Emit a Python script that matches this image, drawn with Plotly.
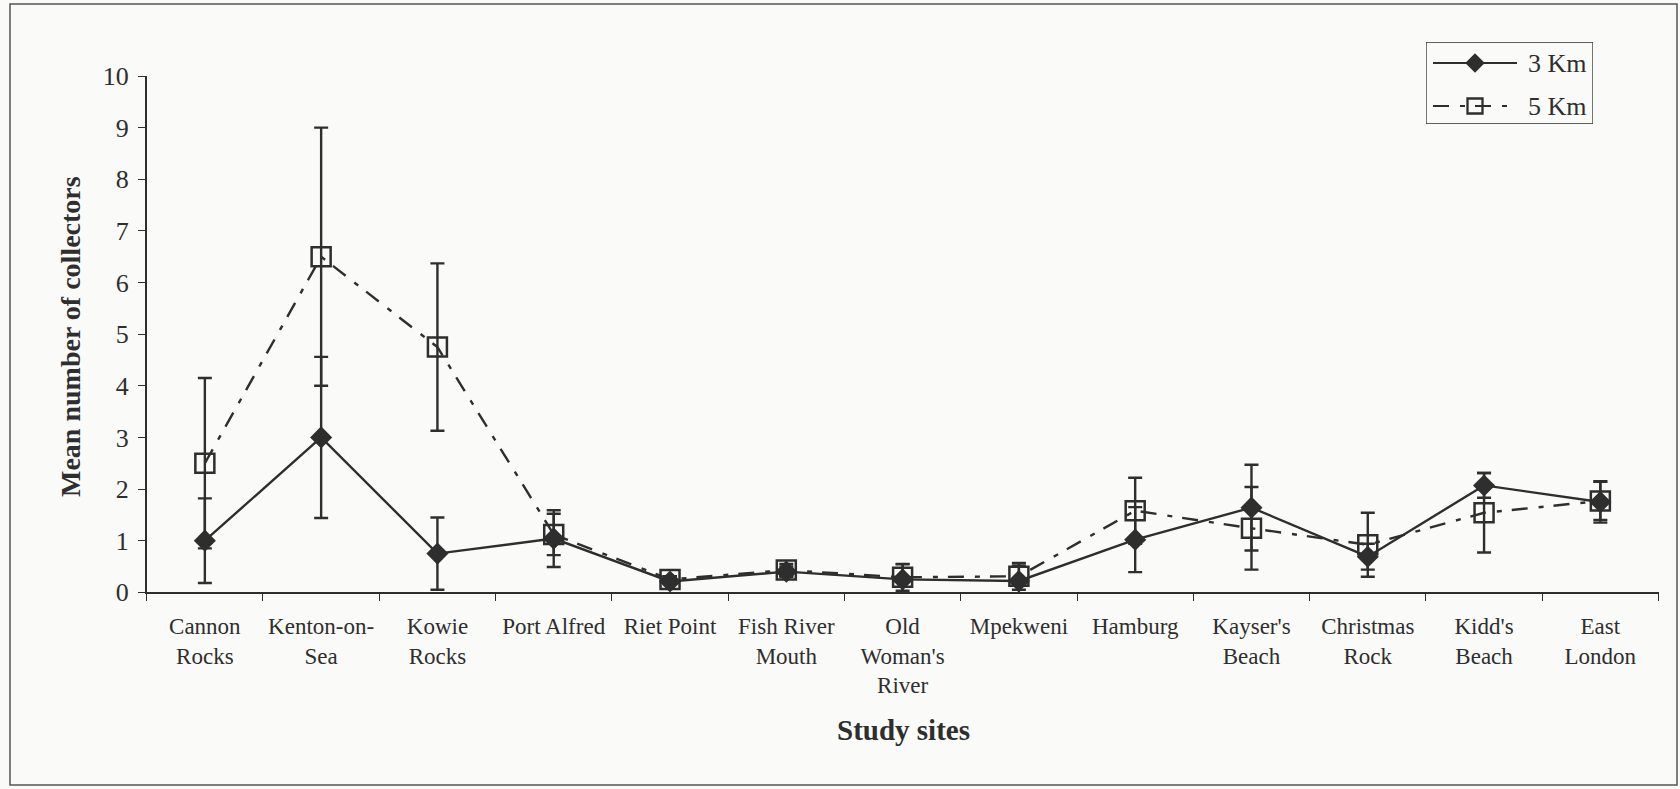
import plotly.graph_objects as go

# Study sites along the coast (west to east)
sites = ["Cannon<br>Rocks", "Kenton-on-<br>Sea", "Kowie<br>Rocks", "Port Alfred", "Riet Point",
         "Fish River<br>Mouth", "Old<br>Woman's<br>River", "Mpekweni", "Hamburg",
         "Kayser's<br>Beach", "Christmas<br>Rock", "Kidd's<br>Beach", "East<br>London"]

# Mean number of collectors and error (±) within 3 km
mean_3km = [1.0, 3.0, 0.75, 1.04, 0.21, 0.40, 0.25, 0.22, 1.02, 1.64, 0.69, 2.07, 1.75]
err_3km = [0.82, 1.56, 0.70, 0.55, 0.05, 0.10, 0.29, 0.30, 0.63, 0.83, 0.25, 0.24, 0.40]

# Mean number of collectors and error (±) within 5 km
mean_5km = [2.5, 6.5, 4.75, 1.12, 0.25, 0.43, 0.29, 0.31, 1.58, 1.24, 0.92, 1.54, 1.77]
err_5km = [1.65, 2.5, 1.62, 0.40, 0.06, 0.12, 0.26, 0.26, 0.64, 0.80, 0.62, 0.77, 0.37]

y_ticks = list(range(0, 11))

W, H = 1680, 789
INK = "#2e2e2e"
BG = "#fafaf8"
SERIF = "Liberation Serif, Times New Roman, serif"
DASH_5KM = "16px,11px,5px,10px"

def px_x(p):
    return p / W

def px_y(p):
    return 1 - p / H

fig = go.Figure()

fig.add_trace(go.Scatter(
    x=sites, y=mean_5km, mode="lines+markers", name="5 Km",
    line=dict(color=INK, width=2.4, dash=DASH_5KM),
    marker=dict(symbol="square-open", size=19, color=INK, line=dict(width=2.5, color=INK)),
    error_y=dict(type="data", array=err_5km, symmetric=True, color=INK, thickness=2.4, width=7),
    showlegend=False, cliponaxis=False,
))
fig.add_trace(go.Scatter(
    x=sites, y=mean_3km, mode="lines+markers", name="3 Km",
    line=dict(color=INK, width=2.4),
    marker=dict(symbol="diamond", size=17, color=INK, line=dict(width=0)),
    error_y=dict(type="data", array=err_3km, symmetric=True, color=INK, thickness=2.4, width=7),
    showlegend=False, cliponaxis=False,
))

# Legend box drawn on its own pixel-scaled axes
LEG_L, LEG_R, LEG_T, LEG_B = 1426, 1593, 42, 124
SAMPLE_X = [1433, 1475, 1517]
for name, yrow, dash, sym, size in [("3 Km", 63, "solid", "diamond", 15),
                                     ("5 Km", 106, DASH_5KM, "square-open", 15)]:
    fig.add_trace(go.Scatter(
        x=SAMPLE_X, y=[yrow] * 3, mode="lines",
        line=dict(color=INK, width=2.2, dash=dash),
        xaxis="x2", yaxis="y2", showlegend=False, hoverinfo="skip",
    ))
    fig.add_trace(go.Scatter(
        x=[SAMPLE_X[1]], y=[yrow], mode="markers",
        marker=dict(symbol=sym, size=size, color=INK,
                    line=dict(width=2.3 if sym == "square-open" else 0, color=INK)),
        xaxis="x2", yaxis="y2", showlegend=False, hoverinfo="skip",
    ))
    fig.add_annotation(x=1526, y=yrow, xref="x2", yref="y2", text=name, showarrow=False,
                       xanchor="left", yanchor="middle", font=dict(family=SERIF, size=26, color=INK))

fig.add_shape(type="rect", xref="x2", yref="y2", x0=LEG_L, x1=LEG_R, y0=LEG_T, y1=LEG_B,
              line=dict(color=INK, width=1.3), fillcolor="rgba(0,0,0,0)")

# Outer frame
fig.add_shape(type="rect", xref="paper", yref="paper",
              x0=px_x(10), x1=px_x(1677), y0=px_y(785), y1=px_y(4),
              line=dict(color="#555555", width=1.5), layer="below")

# Axis titles
fig.add_annotation(x=px_x(903), y=px_y(730), xref="paper", yref="paper", text="<b>Study sites</b>",
                   showarrow=False, xanchor="center", yanchor="middle",
                   font=dict(family=SERIF, size=29, color=INK))
fig.add_annotation(x=px_x(70), y=px_y(337), xref="paper", yref="paper",
                   text="<b>Mean number of collectors</b>", textangle=-90,
                   showarrow=False, xanchor="center", yanchor="middle",
                   font=dict(family=SERIF, size=28, color=INK))

fig.update_layout(
    width=W, height=H,
    margin=dict(l=0, r=0, t=0, b=0, pad=0, autoexpand=False),
    paper_bgcolor=BG, plot_bgcolor=BG,
    xaxis=dict(
        domain=[px_x(146.7), px_x(1658.5)],
        type="category", range=[-0.5, 12.5],
        showline=True, linecolor=INK, linewidth=1.5,
        ticks="outside", tickson="boundaries", ticklen=7, tickcolor=INK, tickwidth=1.2,
        showgrid=False, zeroline=False, automargin=False,
        tickfont=dict(family=SERIF, size=23, color=INK),
        tickangle=0, ticklabelstandoff=12,
    ),
    yaxis=dict(
        domain=[px_y(592.3), px_y(76)],
        range=[0, 10], tickvals=y_ticks,
        showline=True, linecolor=INK, linewidth=1.5,
        ticks="outside", ticklen=7, tickcolor=INK, tickwidth=1.2,
        showgrid=False, zeroline=False, automargin=False,
        tickfont=dict(family=SERIF, size=26, color=INK),
        ticklabelstandoff=4,
    ),
    xaxis2=dict(domain=[px_x(LEG_L), px_x(LEG_R)], range=[LEG_L, LEG_R], visible=False,
                anchor="y2", fixedrange=True),
    yaxis2=dict(domain=[px_y(LEG_B), px_y(LEG_T)], range=[LEG_B, LEG_T], visible=False,
                anchor="x2", fixedrange=True),
    showlegend=False,
)

fig.write_html("out.html")
